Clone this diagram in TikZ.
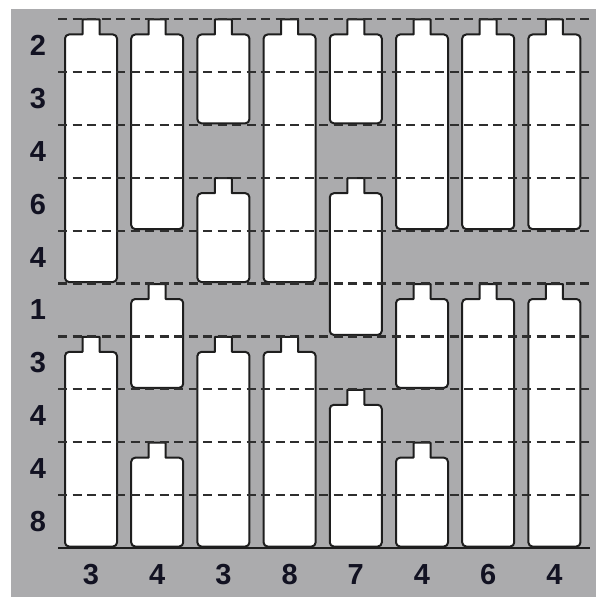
\documentclass[tikz,border=0pt]{standalone}
\usepackage{fontspec}
\setmainfont{Liberation Sans}
\definecolor{bggray}{HTML}{ABABAD}
\definecolor{inkc}{HTML}{1E1E1E}
\definecolor{dashc}{HTML}{2E2E2E}
\definecolor{labc}{HTML}{121222}
\tikzset{
  bottlebox/.style={fill=white,draw=inkc,line width=2pt,line join=round},
  gridline/.style={draw=dashc,line width=2.2pt,dash pattern=on 9pt off 5.5pt},
  baseline/.style={draw=inkc,line width=2pt},
  lab/.style={font=\bfseries\fontsize{29}{29}\selectfont,text=labc,inner sep=0pt,anchor=center}
}
\begin{document}
\begin{tikzpicture}[x=1pt,y=-1pt]
\useasboundingbox (0,0) rectangle (596,599);
\fill[bggray] (11,9) rectangle (596,597);
% bottles: column / first row / last row
\foreach \c/\a/\b in {1/0/4,1/6/9,
                     2/0/3,2/5/6,2/8/9,
                     3/0/1,3/3/4,3/6/9,
                     4/0/4,4/6/9,
                     5/0/1,5/3/5,5/7/9,
                     6/0/3,6/5/6,6/8/9,
                     7/0/3,7/5/9,
                     8/0/3,8/5/9}{
  \pgfmathsetmacro\cx{91+66.2*(\c-1)}
  \pgfmathsetmacro\tp{19+52.9*\a+0.5}
  \pgfmathsetmacro\sh{\tp+15}
  \pgfmathsetmacro\bt{19+52.9*(\b+1)-1.5}
  \path[bottlebox] (\cx-8.5,\tp) -- (\cx+8.5,\tp) -- (\cx+8.5,\sh)
     [rounded corners=4pt] -- (\cx+26,\sh) -- (\cx+26,\bt) -- (\cx-26,\bt) -- (\cx-26,\sh)
     [sharp corners] -- (\cx-8.5,\sh) -- cycle;
}
% grid lines
\foreach \k in {0,...,9}{
  \pgfmathsetmacro\yy{19+52.9*\k}
  \coordinate (gl\k) at (58,\yy);
  \coordinate (gr\k) at (590,\yy);
  \draw[gridline] (gl\k) -- (gr\k);
}
\coordinate (bl) at (58,548);
\coordinate (br) at (590,548);
\draw[baseline] (bl) -- (br);
% row labels
\foreach \t [count=\i from 0] in {2,3,4,6,4,1,3,4,4,8}{
  \node[lab] (row\i) at (38,{19+52.9*(\i+0.5)}) {\t};
}
% column labels
\foreach \t [count=\i from 0] in {3,4,3,8,7,4,6,4}{
  \node[lab] (col\i) at ({91+66.2*\i},575) {\t};
}
\end{tikzpicture}
\end{document}
